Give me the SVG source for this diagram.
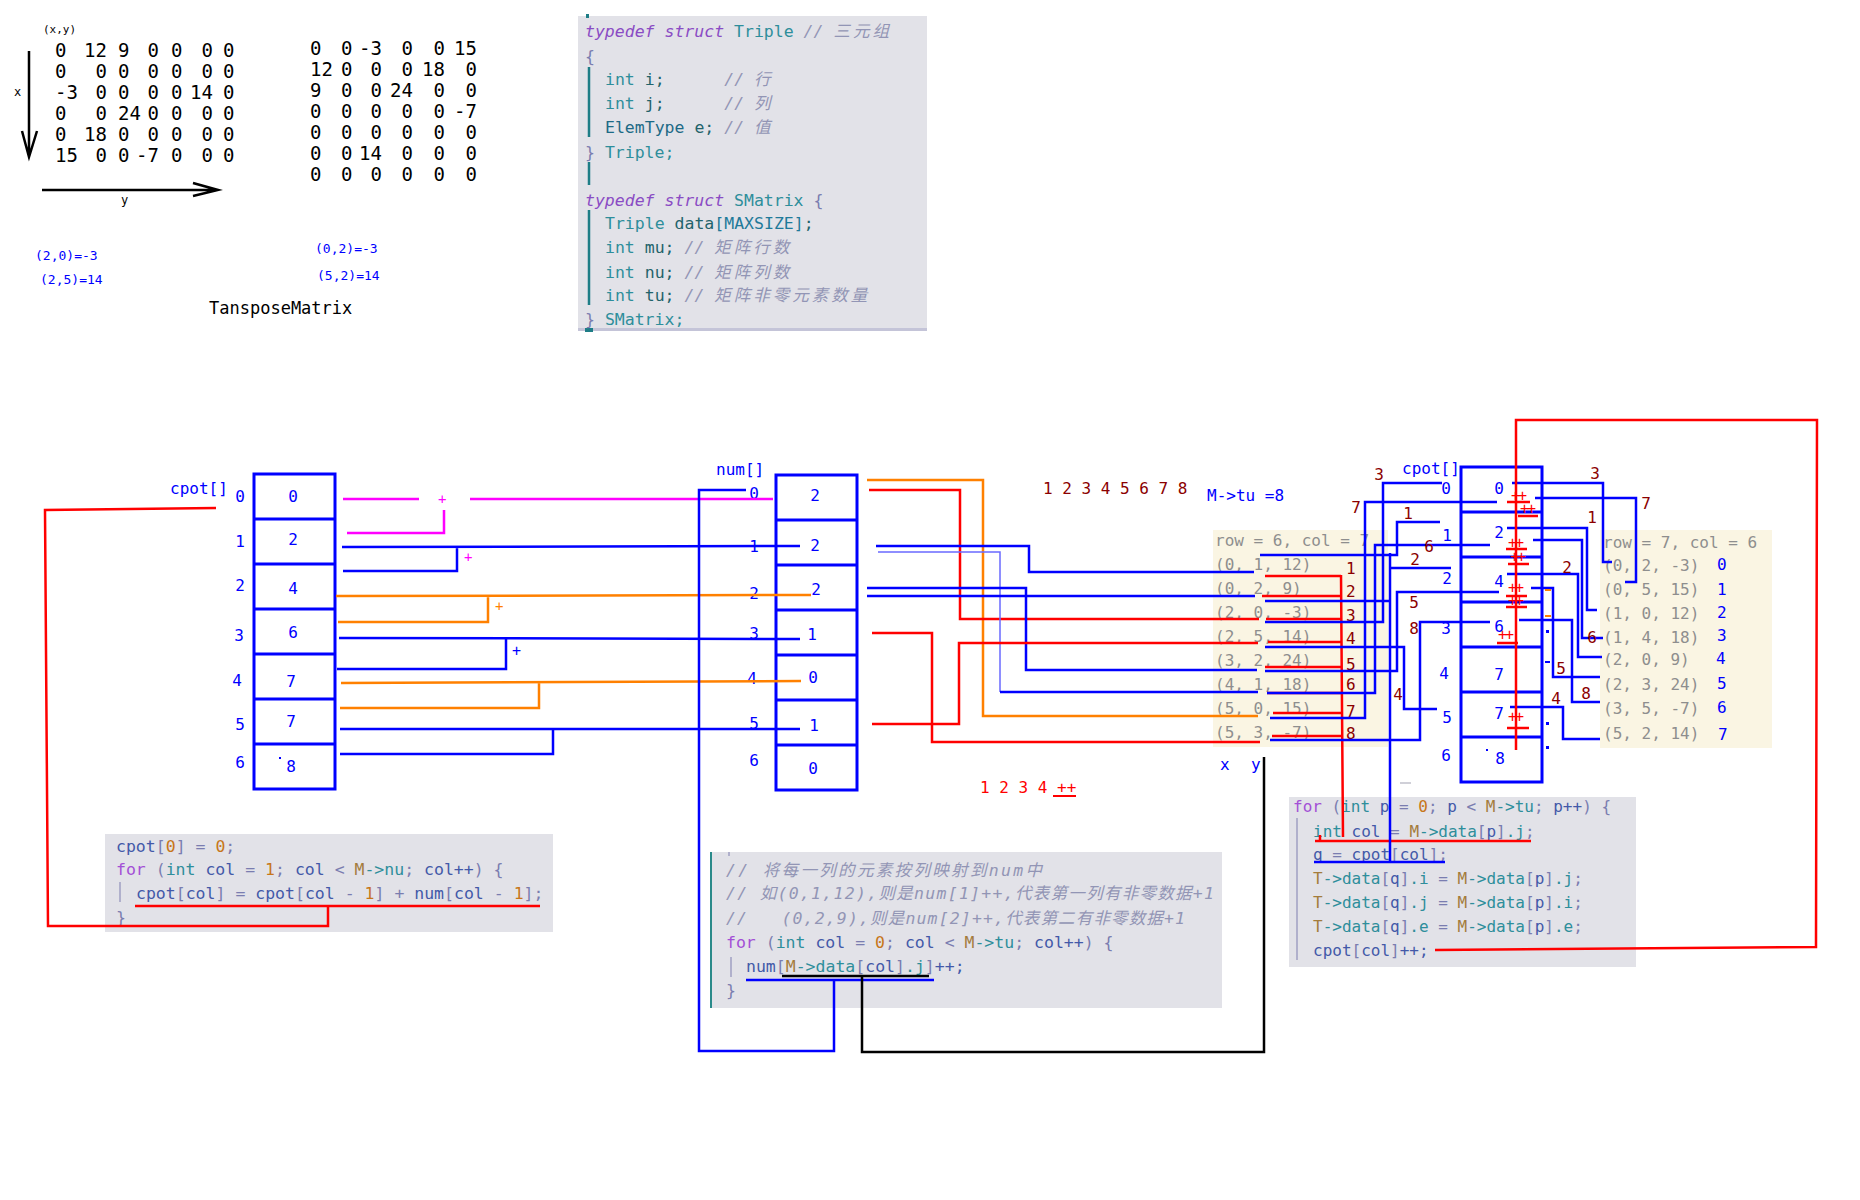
<svg xmlns="http://www.w3.org/2000/svg" width="1860" height="1200" viewBox="0 0 1860 1200">
<style>
  text { font-family: "DejaVu Sans Mono", "Noto Sans CJK SC", monospace; }
  .mx { font-size: 19px; fill: #000; }
  .st { text-anchor: start; }
  .en { text-anchor: end; }
  .mid { text-anchor: middle; }
  .bl { fill: #0000ff; }
  .dr { fill: #8b0000; }
  .rd { fill: #ff0000; }
  .lbl { font-size: 16px; }
  .sm { font-size: 13px; }
  .tri { font-size: 16px; fill: #8e8e8e; }
  .code { font-size: 16.5px; fill: #4359a8; }
  .code16 { font-size: 16px; fill: #4359a8; }
  .kw { fill: #a34fd6; }
  .kwi { fill: #8a4cc4; font-style: italic; }
  .ty { fill: #2e8e9b; }
  .vr { fill: #22636b; }
  .id { fill: #4359a8; }
  .nm { fill: #c7761a; }
  .pn { fill: #7a7db0; }
  .cm { fill: #9295b5; font-style: italic; }
  .cjk { letter-spacing: 3px; }
  .mm { fill: #a47c3c; }
  .codebg { fill: #e2e2e8; }
  .beige { fill: #faf5e3; }
  .cell { fill: none; stroke: #0000ff; stroke-width: 3; }
  .ln { fill: none; stroke: #0000ff; stroke-width: 2.5; }
  .lnt { fill: none; stroke: #6a6aff; stroke-width: 1.5; }
  .rl { fill: none; stroke: #ff0000; stroke-width: 2.5; }
  .ol { fill: none; stroke: #ff8000; stroke-width: 2.5; }
  .ml { fill: none; stroke: #ff00ff; stroke-width: 2.5; }
  .kl { fill: none; stroke: #000; stroke-width: 2.5; }
  .ax { fill: none; stroke: #000; stroke-width: 2.5; }
  .pp { font-size: 15px; fill: #ff0000; letter-spacing: -2px; }
</style>

<rect width="1860" height="1200" fill="#ffffff"/>

<!-- original matrix with axes -->
<g id="matrix-m">
  <text x="43" y="33" font-size="11">(x,y)</text>
  <text x="14" y="96" font-size="12">x</text>
  <text x="121" y="204" font-size="12">y</text>
  <path class="ax" d="M29 51 V157 M22 131 L29 157 L37 131"/>
  <path class="ax" d="M42 190 H218 M193 183 L218 190 L193 196"/>
  <text class="mx st" y="57"><tspan x="55">0</tspan><tspan x="118">9</tspan><tspan x="171">0</tspan><tspan x="223">0</tspan></text>
  <text class="mx en" y="57"><tspan x="107">12</tspan><tspan x="159">0</tspan><tspan x="213">0</tspan></text>
  <text class="mx st" y="78"><tspan x="55">0</tspan><tspan x="118">0</tspan><tspan x="171">0</tspan><tspan x="223">0</tspan></text>
  <text class="mx en" y="78"><tspan x="107">0</tspan><tspan x="159">0</tspan><tspan x="213">0</tspan></text>
  <text class="mx st" y="99"><tspan x="55">-3</tspan><tspan x="118">0</tspan><tspan x="171">0</tspan><tspan x="223">0</tspan></text>
  <text class="mx en" y="99"><tspan x="107">0</tspan><tspan x="159">0</tspan><tspan x="213">14</tspan></text>
  <text class="mx st" y="120"><tspan x="55">0</tspan><tspan x="118">24</tspan><tspan x="171">0</tspan><tspan x="223">0</tspan></text>
  <text class="mx en" y="120"><tspan x="107">0</tspan><tspan x="159">0</tspan><tspan x="213">0</tspan></text>
  <text class="mx st" y="141"><tspan x="55">0</tspan><tspan x="118">0</tspan><tspan x="171">0</tspan><tspan x="223">0</tspan></text>
  <text class="mx en" y="141"><tspan x="107">18</tspan><tspan x="159">0</tspan><tspan x="213">0</tspan></text>
  <text class="mx st" y="162"><tspan x="55">15</tspan><tspan x="118">0</tspan><tspan x="171">0</tspan><tspan x="223">0</tspan></text>
  <text class="mx en" y="162"><tspan x="107">0</tspan><tspan x="159">-7</tspan><tspan x="213">0</tspan></text>
  <text class="bl sm" x="35" y="260">(2,0)=-3</text>
  <text class="bl sm" x="40" y="284">(2,5)=14</text>
</g>

<!-- transposed matrix -->
<g id="matrix-t">
  <text class="mx st" y="55"><tspan x="310">0</tspan><tspan x="341">0</tspan></text>
  <text class="mx en" y="55"><tspan x="382">-3</tspan><tspan x="413">0</tspan><tspan x="445">0</tspan><tspan x="477">15</tspan></text>
  <text class="mx st" y="76"><tspan x="310">12</tspan><tspan x="341">0</tspan></text>
  <text class="mx en" y="76"><tspan x="382">0</tspan><tspan x="413">0</tspan><tspan x="445">18</tspan><tspan x="477">0</tspan></text>
  <text class="mx st" y="97"><tspan x="310">9</tspan><tspan x="341">0</tspan></text>
  <text class="mx en" y="97"><tspan x="382">0</tspan><tspan x="413">24</tspan><tspan x="445">0</tspan><tspan x="477">0</tspan></text>
  <text class="mx st" y="118"><tspan x="310">0</tspan><tspan x="341">0</tspan></text>
  <text class="mx en" y="118"><tspan x="382">0</tspan><tspan x="413">0</tspan><tspan x="445">0</tspan><tspan x="477">-7</tspan></text>
  <text class="mx st" y="139"><tspan x="310">0</tspan><tspan x="341">0</tspan></text>
  <text class="mx en" y="139"><tspan x="382">0</tspan><tspan x="413">0</tspan><tspan x="445">0</tspan><tspan x="477">0</tspan></text>
  <text class="mx st" y="160"><tspan x="310">0</tspan><tspan x="341">0</tspan></text>
  <text class="mx en" y="160"><tspan x="382">14</tspan><tspan x="413">0</tspan><tspan x="445">0</tspan><tspan x="477">0</tspan></text>
  <text class="mx st" y="181"><tspan x="310">0</tspan><tspan x="341">0</tspan></text>
  <text class="mx en" y="181"><tspan x="382">0</tspan><tspan x="413">0</tspan><tspan x="445">0</tspan><tspan x="477">0</tspan></text>
  <text class="bl sm" x="315" y="253">(0,2)=-3</text>
  <text class="bl sm" x="317" y="280">(5,2)=14</text>
  <text x="209" y="314" font-size="17">TansposeMatrix</text>
</g>

<!-- struct definitions -->
<g id="code-struct">
  <rect class="codebg" x="578" y="16" width="349" height="314"/>
  <rect x="578" y="328" width="349" height="3" fill="#c4c4d8"/>
  <rect x="586" y="14" width="3" height="4" fill="#1e7d86"/>
  <rect x="585" y="328" width="8" height="4" fill="#1e7d86"/>
  <path d="M589 67 V137 M589 162 V185 M589 210 V305" stroke="#1e7d86" stroke-width="2.5" fill="none"/>
  <text class="code" x="585" y="37" xml:space="preserve"><tspan class="kwi">typedef struct</tspan> <tspan class="ty">Triple</tspan> <tspan class="cm">// <tspan class="cjk">三元组</tspan></tspan></text>
  <text class="code" x="585" y="62"><tspan class="pn">{</tspan></text>
  <text class="code" x="605" y="85" xml:space="preserve"><tspan class="ty">int</tspan> <tspan class="vr">i;</tspan>      <tspan class="cm">// 行</tspan></text>
  <text class="code" x="605" y="109" xml:space="preserve"><tspan class="ty">int</tspan> <tspan class="vr">j;</tspan>      <tspan class="cm">// 列</tspan></text>
  <text class="code" x="605" y="133" xml:space="preserve"><tspan fill="#1d6a86">ElemType</tspan> <tspan class="vr">e;</tspan> <tspan class="cm">// 值</tspan></text>
  <text class="code" x="585" y="158" xml:space="preserve"><tspan class="pn">}</tspan> <tspan class="ty">Triple;</tspan></text>
  <text class="code" x="585" y="206" xml:space="preserve"><tspan class="kwi">typedef struct</tspan> <tspan class="ty">SMatrix</tspan> <tspan class="pn">{</tspan></text>
  <text class="code" x="605" y="229" xml:space="preserve"><tspan class="ty">Triple</tspan> <tspan class="vr">data</tspan><tspan fill="#1f7a9a">[MAXSIZE]</tspan><tspan class="vr">;</tspan></text>
  <text class="code" x="605" y="253" xml:space="preserve"><tspan class="ty">int</tspan> <tspan class="vr">mu;</tspan> <tspan class="cm">// <tspan class="cjk">矩阵行数</tspan></tspan></text>
  <text class="code" x="605" y="278" xml:space="preserve"><tspan class="ty">int</tspan> <tspan class="vr">nu;</tspan> <tspan class="cm">// <tspan class="cjk">矩阵列数</tspan></tspan></text>
  <text class="code" x="605" y="301" xml:space="preserve"><tspan class="ty">int</tspan> <tspan class="vr">tu;</tspan> <tspan class="cm">// <tspan class="cjk">矩阵非零元素数量</tspan></tspan></text>
  <text class="code" x="585" y="325" xml:space="preserve"><tspan class="pn">}</tspan> <tspan class="ty">SMatrix;</tspan></text>
</g>

<!-- cpot prefix-sum loop -->
<g id="code-cpot">
  <rect class="codebg" x="105" y="834" width="448" height="98"/>
  <path d="M120 882 V902" stroke="#b0b0cc" stroke-width="2" fill="none"/>
  <text class="code" x="116" y="852" xml:space="preserve"><tspan class="id">cpot</tspan><tspan class="pn">[</tspan><tspan class="nm">0</tspan><tspan class="pn">]</tspan> <tspan class="pn">=</tspan> <tspan class="nm">0</tspan><tspan class="pn">;</tspan></text>
  <text class="code" x="116" y="875" xml:space="preserve"><tspan class="kw">for</tspan> <tspan class="pn">(</tspan><tspan class="ty">int</tspan> <tspan class="id">col</tspan> <tspan class="pn">=</tspan> <tspan class="nm">1</tspan><tspan class="pn">;</tspan> <tspan class="id">col</tspan> <tspan class="pn">&lt;</tspan> <tspan class="mm">M</tspan><tspan class="ty">-&gt;nu</tspan><tspan class="pn">;</tspan> <tspan class="id">col++</tspan><tspan class="pn">) {</tspan></text>
  <text class="code" x="136" y="899" xml:space="preserve"><tspan class="id">cpot</tspan><tspan class="pn">[</tspan><tspan class="id">col</tspan><tspan class="pn">]</tspan> <tspan class="pn">=</tspan> <tspan class="id">cpot</tspan><tspan class="pn">[</tspan><tspan class="id">col</tspan> <tspan class="pn">-</tspan> <tspan class="nm">1</tspan><tspan class="pn">]</tspan> <tspan class="pn">+</tspan> <tspan class="id">num</tspan><tspan class="pn">[</tspan><tspan class="id">col</tspan> <tspan class="pn">-</tspan> <tspan class="nm">1</tspan><tspan class="pn">];</tspan></text>
  <text class="code" x="116" y="923"><tspan class="pn">}</tspan></text>
</g>

<!-- num counting loop -->
<g id="code-num">
  <rect class="codebg" x="710" y="852" width="512" height="156"/>
  <path d="M711 852 V1008" stroke="#2a8a8a" stroke-width="2" fill="none"/>
  <path d="M729 852 V856" stroke="#b0b0cc" stroke-width="2" fill="none"/>
  <path d="M731 957 V977" stroke="#b0b0cc" stroke-width="2" fill="none"/>
  <text class="code cm" x="726" y="876" textLength="316" lengthAdjust="spacing">// 将每一列的元素按列映射到num中</text>
  <text class="code cm" x="726" y="899" textLength="488" lengthAdjust="spacing">// 如(0,1,12),则是num[1]++,代表第一列有非零数据+1</text>
  <text class="code cm" x="726" y="924" textLength="459" lengthAdjust="spacing" xml:space="preserve">//   (0,2,9),则是num[2]++,代表第二有非零数据+1</text>
  <text class="code" x="726" y="948" xml:space="preserve"><tspan class="kw">for</tspan> <tspan class="pn">(</tspan><tspan class="ty">int</tspan> <tspan class="id">col</tspan> <tspan class="pn">=</tspan> <tspan class="nm">0</tspan><tspan class="pn">;</tspan> <tspan class="id">col</tspan> <tspan class="pn">&lt;</tspan> <tspan class="mm">M</tspan><tspan class="ty">-&gt;tu</tspan><tspan class="pn">;</tspan> <tspan class="id">col++</tspan><tspan class="pn">) {</tspan></text>
  <text class="code" x="746" y="972" xml:space="preserve"><tspan class="id">num</tspan><tspan class="pn">[</tspan><tspan class="mm">M</tspan><tspan class="ty">-&gt;data</tspan><tspan class="pn">[</tspan><tspan class="id">col</tspan><tspan class="pn">]</tspan><tspan class="ty">.j</tspan><tspan class="pn">]</tspan><tspan class="id">++;</tspan></text>
  <text class="code" x="726" y="996"><tspan class="pn">}</tspan></text>
</g>

<!-- transpose loop -->
<g id="code-transpose">
  <rect class="codebg" x="1289" y="797" width="347" height="170"/>
  <path d="M1297 818 V960" stroke="#b0b0cc" stroke-width="2" fill="none"/>
  <text class="code16" x="1293" y="812" xml:space="preserve"><tspan class="kw">for</tspan> <tspan class="pn">(</tspan><tspan class="ty">int</tspan> <tspan class="id">p</tspan> <tspan class="pn">=</tspan> <tspan class="nm">0</tspan><tspan class="pn">;</tspan> <tspan class="id">p</tspan> <tspan class="pn">&lt;</tspan> <tspan class="mm">M</tspan><tspan class="ty">-&gt;tu</tspan><tspan class="pn">;</tspan> <tspan class="id">p++</tspan><tspan class="pn">) {</tspan></text>
  <text class="code16" x="1313" y="837" xml:space="preserve"><tspan class="ty">int</tspan> <tspan class="id">col</tspan> <tspan class="pn">=</tspan> <tspan class="mm">M</tspan><tspan class="ty">-&gt;data</tspan><tspan class="pn">[</tspan><tspan class="id">p</tspan><tspan class="pn">]</tspan><tspan class="ty">.j</tspan><tspan class="pn">;</tspan></text>
  <text class="code16" x="1313" y="860" xml:space="preserve"><tspan class="id">q</tspan> <tspan class="pn">=</tspan> <tspan class="id">cpot</tspan><tspan class="pn">[</tspan><tspan class="id">col</tspan><tspan class="pn">];</tspan></text>
  <text class="code16" x="1313" y="884" xml:space="preserve"><tspan class="mm">T</tspan><tspan class="ty">-&gt;data</tspan><tspan class="pn">[</tspan><tspan class="id">q</tspan><tspan class="pn">]</tspan><tspan class="ty">.i</tspan> <tspan class="pn">=</tspan> <tspan class="mm">M</tspan><tspan class="ty">-&gt;data</tspan><tspan class="pn">[</tspan><tspan class="id">p</tspan><tspan class="pn">]</tspan><tspan class="ty">.j</tspan><tspan class="pn">;</tspan></text>
  <text class="code16" x="1313" y="908" xml:space="preserve"><tspan class="mm">T</tspan><tspan class="ty">-&gt;data</tspan><tspan class="pn">[</tspan><tspan class="id">q</tspan><tspan class="pn">]</tspan><tspan class="ty">.j</tspan> <tspan class="pn">=</tspan> <tspan class="mm">M</tspan><tspan class="ty">-&gt;data</tspan><tspan class="pn">[</tspan><tspan class="id">p</tspan><tspan class="pn">]</tspan><tspan class="ty">.i</tspan><tspan class="pn">;</tspan></text>
  <text class="code16" x="1313" y="932" xml:space="preserve"><tspan class="mm">T</tspan><tspan class="ty">-&gt;data</tspan><tspan class="pn">[</tspan><tspan class="id">q</tspan><tspan class="pn">]</tspan><tspan class="ty">.e</tspan> <tspan class="pn">=</tspan> <tspan class="mm">M</tspan><tspan class="ty">-&gt;data</tspan><tspan class="pn">[</tspan><tspan class="id">p</tspan><tspan class="pn">]</tspan><tspan class="ty">.e</tspan><tspan class="pn">;</tspan></text>
  <text class="code16" x="1313" y="956" xml:space="preserve"><tspan class="id">cpot</tspan><tspan class="pn">[</tspan><tspan class="id">col</tspan><tspan class="pn">]</tspan><tspan class="id">++;</tspan></text>
</g>

<!-- cpot array (initial) -->
<g id="cpot-left">
  <text class="bl lbl" x="170" y="494">cpot[]</text>
  <rect class="cell" x="254" y="474" width="81" height="315"/>
  <path class="cell" d="M254 519 H335 M254 564 H335 M254 609 H335 M254 654 H335 M254 699 H335 M254 744 H335"/>
  <g class="bl lbl mid">
    <text x="293" y="502">0</text><text x="293" y="545">2</text><text x="293" y="594">4</text>
    <text x="293" y="638">6</text><text x="291" y="687">7</text><text x="291" y="727">7</text><text x="291" y="772">8</text>
    <text x="240" y="502">0</text><text x="240" y="547">1</text><text x="240" y="591">2</text>
    <text x="239" y="641">3</text><text x="237" y="686">4</text><text x="240" y="730">5</text><text x="240" y="768">6</text>
  </g>
  <rect x="279" y="757" width="2" height="2" fill="#0000ff"/>
</g>

<!-- num array -->
<g id="num-array">
  <text class="bl lbl" x="716" y="475">num[]</text>
  <rect class="cell" x="776" y="475" width="81" height="315"/>
  <path class="cell" d="M776 520 H857 M776 565 H857 M776 610 H857 M776 655 H857 M776 700 H857 M776 745 H857"/>
  <g class="bl lbl mid">
    <text x="815" y="501">2</text><text x="815" y="551">2</text><text x="816" y="595">2</text>
    <text x="812" y="640">1</text><text x="813" y="683">0</text><text x="814" y="731">1</text><text x="813" y="774">0</text>
    <text x="754" y="499">0</text><text x="754" y="552">1</text><text x="754" y="599">2</text>
    <text x="754" y="639">3</text><text x="752" y="684">4</text><text x="754" y="729">5</text><text x="754" y="766">6</text>
  </g>
</g>

<!-- counters and labels -->
<g id="labels">
  <text class="dr lbl" x="1043" y="494" xml:space="preserve">1 2 3 4 5 6 7 8</text>
  <text class="bl lbl" x="1207" y="501">M-&gt;tu =8</text>
  <text class="rd lbl" x="980" y="793" xml:space="preserve">1 2 3 4 ++</text>
  <path d="M1053 796 H1076" stroke="#ff0000" stroke-width="2"/>
  <text class="bl lbl" x="1220" y="770">x</text>
  <text class="bl lbl" x="1251" y="770">y</text>
</g>

<!-- triples of M -->
<g id="triples-m">
  <rect class="beige" x="1213" y="530" width="175" height="217"/>
  <text class="tri" x="1215" y="546">row = 6, col = 7</text>
  <text class="tri" x="1215" y="570">(0, 1, 12)</text>
  <text class="tri" x="1215" y="594">(0, 2, 9)</text>
  <text class="tri" x="1215" y="618">(2, 0, -3)</text>
  <text class="tri" x="1215" y="642">(2, 5, 14)</text>
  <text class="tri" x="1215" y="666">(3, 2, 24)</text>
  <text class="tri" x="1215" y="690">(4, 1, 18)</text>
  <text class="tri" x="1215" y="714">(5, 0, 15)</text>
  <text class="tri" x="1215" y="738">(5, 3, -7)</text>
  <g class="dr lbl">
    <text x="1346" y="574">1</text><text x="1346" y="597">2</text><text x="1346" y="621">3</text><text x="1346" y="644">4</text>
    <text x="1346" y="670">5</text><text x="1346" y="690">6</text><text x="1346" y="717">7</text><text x="1346" y="739">8</text>
  </g>
</g>

<!-- cpot array (during transpose) -->
<g id="cpot-right">
  <text class="bl lbl" x="1402" y="474">cpot[]</text>
  <rect class="cell" x="1461" y="467" width="81" height="315"/>
  <path class="cell" d="M1461 512 H1542 M1461 557 H1542 M1461 602 H1542 M1461 647 H1542 M1461 692 H1542 M1461 737 H1542"/>
  <g class="bl lbl mid">
    <text x="1499" y="494">0</text><text x="1499" y="538">2</text><text x="1499" y="587">4</text>
    <text x="1499" y="632">6</text><text x="1499" y="680">7</text><text x="1499" y="719">7</text><text x="1500" y="764">8</text>
    <text x="1446" y="494">0</text><text x="1447" y="541">1</text><text x="1447" y="584">2</text>
    <text x="1446" y="634">3</text><text x="1444" y="679">4</text><text x="1447" y="723">5</text><text x="1446" y="761">6</text>
  </g>
  <rect x="1486" y="749" width="2" height="2" fill="#0000ff"/>
</g>

<!-- triples of T -->
<g id="triples-t">
  <rect class="beige" x="1600" y="530" width="172" height="218"/>
  <text class="tri" x="1603" y="548">row = 7, col = 6</text>
  <text class="tri" x="1603" y="571">(0, 2, -3)</text>
  <text class="tri" x="1603" y="595">(0, 5, 15)</text>
  <text class="tri" x="1603" y="619">(1, 0, 12)</text>
  <text class="tri" x="1603" y="643">(1, 4, 18)</text>
  <text class="tri" x="1603" y="665">(2, 0, 9)</text>
  <text class="tri" x="1603" y="690">(2, 3, 24)</text>
  <text class="tri" x="1603" y="714">(3, 5, -7)</text>
  <text class="tri" x="1603" y="739">(5, 2, 14)</text>
  <g class="bl lbl">
    <text x="1717" y="570">0</text><text x="1717" y="595">1</text><text x="1717" y="618">2</text><text x="1717" y="641">3</text>
    <text x="1716" y="664">4</text><text x="1717" y="689">5</text><text x="1717" y="713">6</text><text x="1718" y="740">7</text>
  </g>
</g>

<g id="connectors">
  <!-- cpot[] to num[] -->
  <path class="ml" d="M343 499 H419 M470 499 H773 M347 533 H444 V510"/>
  <path class="ln" d="M342 547 L800 546 M343 571 H457 V547"/>
  <path class="ol" d="M336 596 L811 595 M338 622 H488 V596"/>
  <path class="ln" d="M339 638 L800 639 M337 669 H506 V638"/>
  <path class="ol" d="M341 683 L801 681 M340 708 H539 V683"/>
  <path class="ln" d="M340 729 H800 M340 754 H553 V729"/>
  <text x="438" y="504" font-size="14" fill="#ff00ff">+</text>
  <text x="464" y="562" font-size="14" fill="#ff00ff">+</text>
  <text x="495" y="611" font-size="14" fill="#ff8000">+</text>
  <text x="512" y="656" font-size="15" fill="#0000ff">+</text>

  <!-- prefix-sum line to its code -->
  <path class="rl" d="M216 508 L45 510 L48 926 H328 V906 M135 906 H540"/>

  <!-- num[] to counting loop -->
  <path class="ln" d="M746 490 H699 V1051 H834 V980 M746 980 H934"/>
  <path class="kl" d="M782 976 H929 M862 976 V1052 H1264 V757"/>

  <!-- num[] to triples -->
  <path class="ol" d="M867 480 H983 V716 H1258"/>
  <path class="rl" d="M869 490 H960 V619 H1259"/>
  <path class="ln" d="M876 546 H1029 V572 H1254"/>
  <path class="lnt" d="M878 552 H1000 V692"/>
  <path class="ln" d="M1000 692 H1258"/>
  <path class="ln" d="M867 588 H1026 V670 H1257"/>
  <path class="ln" d="M867 596 H1255"/>
  <path class="rl" d="M872 633 H932 V742 H1260"/>
  <path class="rl" d="M872 724 H959 V643 H1258"/>

  <!-- triples to column read in transpose loop -->
  <path class="rl" d="M1265 576 H1341 M1262 596 H1341 M1266 619 H1341 M1268 642 H1341 M1265 667 H1341 M1267 693 H1341 M1273 713 H1341 M1272 736 H1341 M1341 575 L1343 837 M1315 841 H1531 M1320 835 V841"/>

  <!-- triples to cpot[] (left side) -->
  <path class="ln" d="M1265 622 H1383 V483 H1442"/>
  <path class="ln" d="M1270 718 H1365 V502 H1497"/>
  <path class="ln" d="M1260 555 H1397 V522 H1440"/>
  <path class="ln" d="M1267 693 H1375 V545 H1490"/>
  <path class="ln" d="M1265 601 H1390 M1390 553 V862 M1390 568 H1451 M1314 862 H1445"/>
  <path class="ln" d="M1265 671 H1397 V592 H1499"/>
  <path class="ln" d="M1270 740 H1420 V622 H1490"/>
  <path class="ln" d="M1265 647 H1404 V709 H1437"/>
  <g class="dr lbl mid">
    <text x="1379" y="480">3</text><text x="1356" y="513">7</text><text x="1408" y="519">1</text>
    <text x="1429" y="552">6</text><text x="1415" y="565">2</text><text x="1414" y="608">5</text>
    <text x="1414" y="634">8</text><text x="1398" y="700">4</text>
  </g>

  <!-- cpot[] to triples of T (right side) -->
  <path class="ln" d="M1512 483 H1603 V562 H1612"/>
  <path class="ln" d="M1535 498 H1636 V582 H1625"/>
  <path class="ln" d="M1507 528 H1587 V610 H1597"/>
  <path class="ln" d="M1507 574 H1578 V657 H1602"/>
  <path class="ln" d="M1533 540 H1582 V638 H1603"/>
  <path class="ln" d="M1531 588 H1553 V677 H1600"/>
  <path class="ln" d="M1519 620 H1572 V702 H1600"/>
  <path class="ln" d="M1510 707 H1563 V739 H1600"/>
  <g class="dr lbl mid">
    <text x="1595" y="479">3</text><text x="1646" y="509">7</text><text x="1592" y="523">1</text>
    <text x="1567" y="573">2</text><text x="1592" y="643">6</text><text x="1561" y="674">5</text>
    <text x="1586" y="699">8</text><text x="1556" y="704">4</text>
  </g>
  <g fill="#0000ff">
    <rect x="1546" y="630" width="3" height="3"/><rect x="1545" y="661" width="5" height="2"/>
    <rect x="1546" y="722" width="3" height="3"/><rect x="1546" y="746" width="3" height="3"/>
  </g>
  <g fill="#ff8000">
    <rect x="1545" y="589" width="6" height="2"/><rect x="1545" y="615" width="6" height="2"/>
  </g>

  <!-- cpot[col]++ loop back -->
  <path class="rl" d="M1516 750 V420 H1817 L1816 947 L1435 950"/>
  <g>
    <text class="pp" x="1511" y="501">++</text><path d="M1507 502 H1530" stroke="#ff0000" stroke-width="2.5"/>
    <text class="pp" x="1520" y="514">++</text><path d="M1518 516 H1538" stroke="#ff0000" stroke-width="2.5"/>
    <text class="pp" x="1508" y="548">++</text><path d="M1506 549 H1527" stroke="#ff0000" stroke-width="2.5"/>
    <text class="pp" x="1510" y="562">++</text><path d="M1508 564 H1529" stroke="#ff0000" stroke-width="2.5"/>
    <text class="pp" x="1508" y="593">++</text><path d="M1506 596 H1527" stroke="#ff0000" stroke-width="2.5"/>
    <text class="pp" x="1508" y="606">++</text><path d="M1506 607 H1527" stroke="#ff0000" stroke-width="2.5"/>
    <text class="pp" x="1498" y="640">++</text><path d="M1497 643 H1518" stroke="#ff0000" stroke-width="2.5"/>
    <text class="pp" x="1508" y="722">++</text><path d="M1507 728 H1529" stroke="#ff0000" stroke-width="2.5"/>
  </g>
  <rect x="1400" y="782" width="11" height="2" fill="#d0d0d8"/>
</g>
</svg>
